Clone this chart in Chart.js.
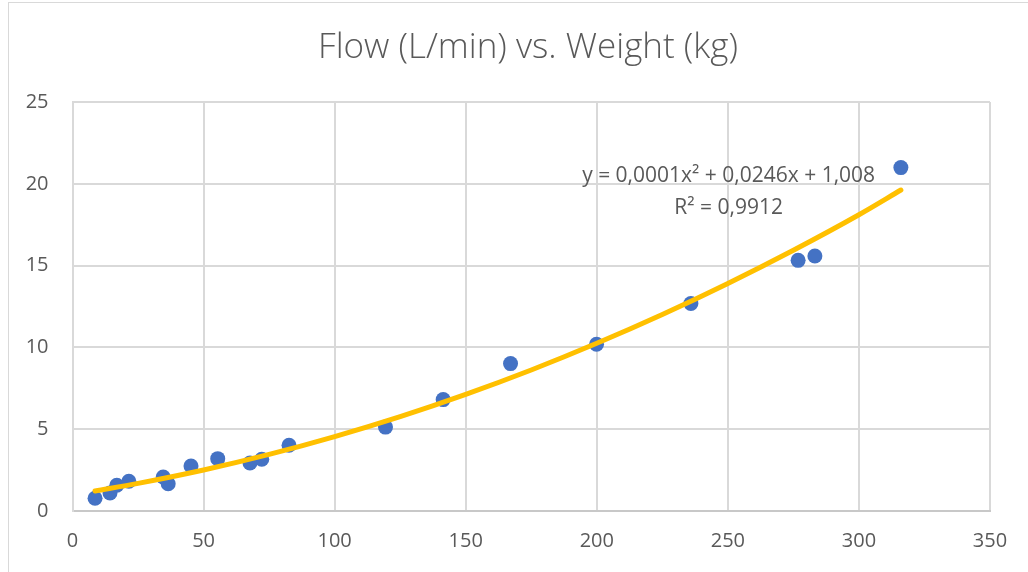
<!DOCTYPE html>
<html>
<head>
<meta charset="utf-8">
<script src="https://cdn.jsdelivr.net/npm/chart.js@4/dist/chart.umd.min.js"></script>
<style>
  html, body { margin: 0; padding: 0; background: #ffffff; overflow: hidden; }
  #wrap { position: relative; width: 1028px; height: 572px; }
  #frame { position: absolute; left: 8px; top: 2px; width: 1100px; height: 700px;
           border: 1px solid #d9d9d9; pointer-events: none; }
</style>
</head>
<body>
<div id="wrap">
  <canvas id="c" width="1028" height="572"></canvas>
  <div id="frame"></div>
</div>
<script>
const chartTitle = 'Flow (L/min) vs. Weight (kg)';
const weightKg = [8.6, 14.3, 16.9, 21.5, 34.6, 36.5, 45.2, 55.4, 67.7, 72.2, 82.6, 119.4, 141.4, 167.1, 199.9, 235.9, 276.8, 283.2, 316.0];
const flowLpm  = [0.78, 1.10, 1.57, 1.82, 2.08, 1.67, 2.75, 3.20, 2.93, 3.16, 4.02, 5.13, 6.81, 9.01, 10.19, 12.68, 15.32, 15.59, 20.99];
const trendX = [8.6, 25, 50, 75, 100, 125, 150, 175, 200, 225, 250, 275, 300, 316];
const trendY = [1.22, 1.69, 2.51, 3.46, 4.55, 5.77, 7.13, 8.62, 10.25, 12.01, 13.91, 15.94, 18.11, 19.62];
const equationLines = ['y = 0,0001x² + 0,0246x + 1,008', 'R² = 0,9912'];
const xTicksMax = 350, xStep = 50;
const yTicksMax = 25, yStep = 5;

const points = weightKg.map((x, i) => ({ x: x, y: flowLpm[i] }));
const trend = trendX.map((x, i) => ({ x: x, y: trendY[i] }));

const textPlugin = {
  id: 'texts',
  afterDatasetsDraw(chart) {
    const ctx = chart.ctx;
    const xs = chart.scales.x, ys = chart.scales.y;
    ctx.save();
    ctx.fillStyle = '#595959';
    ctx.textAlign = 'center';
    ctx.textBaseline = 'middle';
    // title
    ctx.font = '300 35px "Open Sans"';
    ctx.fillText(chartTitle, 528, 48);
    // trendline equation
    ctx.font = '21px "Open Sans"';
    const cx = xs.getPixelForValue(250.3);
    ctx.fillText(equationLines[0], cx, ys.getPixelForValue(20.45));
    ctx.fillText(equationLines[1], cx, ys.getPixelForValue(18.55));
    ctx.restore();
  }
};

new Chart(document.getElementById('c'), {
  type: 'scatter',
  data: {
    datasets: [
      {
        label: 'Trend',
        data: trend,
        showLine: true,
        borderColor: '#FFC000',
        backgroundColor: '#FFC000',
        borderWidth: 5,
        pointRadius: 0,
        cubicInterpolationMode: 'monotone',
        borderCapStyle: 'round',
        order: 0
      },
      {
        label: 'Flow',
        data: points,
        backgroundColor: '#4472C4',
        borderColor: '#4472C4',
        borderWidth: 0,
        pointRadius: 7.5,
        pointHoverRadius: 7.5,
        order: 1
      }
    ]
  },
  options: {
    responsive: false,
    animation: false,
    devicePixelRatio: 1,
    layout: { padding: { left: 0, right: 38, top: 102, bottom: 0 } },
    plugins: {
      legend: { display: false },
      tooltip: { enabled: false },
      title: { display: false }
    },
    scales: {
      x: {
        type: 'linear',
        min: 0, max: xTicksMax,
        ticks: { stepSize: xStep, color: '#595959', font: { family: '"Open Sans"', size: 20 }, padding: 18, maxRotation: 0 },
        grid: { color: '#d9d9d9', lineWidth: 2, drawTicks: false },
        border: { color: '#c8c8c8', width: 2 },
        afterFit(s) { s.height = 61; }
      },
      y: {
        type: 'linear',
        min: 0, max: yTicksMax,
        ticks: { stepSize: yStep, color: '#595959', font: { family: '"Open Sans"', size: 20 }, padding: 24 },
        grid: { color: '#d9d9d9', lineWidth: 2, drawTicks: false },
        border: { color: '#d9d9d9', width: 2 },
        afterFit(s) { s.width = 72.5; }
      }
    }
  },
  plugins: [textPlugin]
});
</script>
</body>
</html>
